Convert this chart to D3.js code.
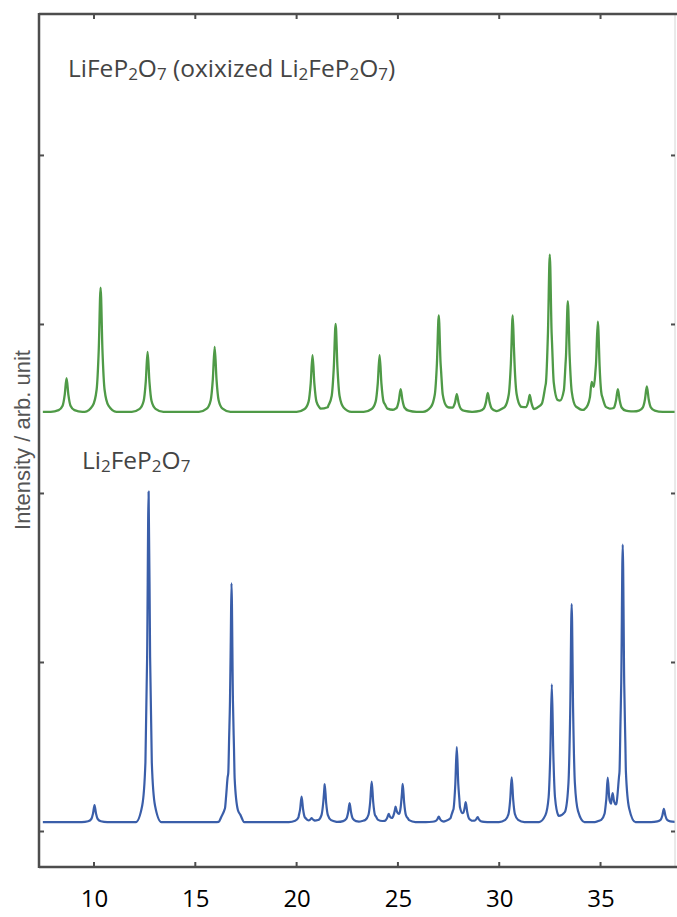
<!DOCTYPE html>
<html>
<head>
<meta charset="utf-8">
<script src="https://cdn.jsdelivr.net/npm/d3@7"></script>
<style>
  body { margin: 0; background: #fff; }
  svg { display: block; }
</style>
</head>
<body>
<div id="chart"></div>
<script>
// peak positions (2theta, deg) and heights above the baseline (arb. unit)
var greenPeaks   = [8.67, 10.35, 12.67, 15.98, 20.81, 21.95, 24.12, 25.16, 27.04, 27.93, 29.46, 30.69, 31.53, 32.52, 33.41, 34.59, 34.89, 35.88, 37.31];
var greenHeights = [ 200,   735,   355,   385,   335,   520,   335,   135,   570,   105,   112,   570,   100,   930,   655,   120,   520,   135,   150];
var greenBase = 2480;

var bluePeaks   = [10.05, 12.72, 16.62, 16.81, 20.27, 20.77, 21.41, 22.64, 23.73, 24.57, 24.91, 25.26, 27.04, 27.93, 28.37, 28.96, 30.64, 32.62, 33.60, 35.38, 35.62, 36.12, 38.15];
var blueHeights = [  100,  1955,    50,  1405,   150,    20,   225,   112,   240,    45,    80,   222,    32,   440,   105,    28,   265,   815,  1290,   250,   110,  1640,    78];
var blueBase = 53;

var xTicks = [10, 15, 20, 25, 30, 35];
var yTicks = [0, 1000, 2000, 3000, 4000];

var width = 677, height = 917;
var plotLeft = 39, plotRight = 675, plotTop = 14, plotBottom = 867;

var svg = d3.select('#chart').append('svg')
    .attr('width', width)
    .attr('height', height)

var x = d3.scaleLinear().domain([7.31, 38.70]).range([plotLeft, plotRight])
var y = d3.scaleLinear().domain([-213, 4834]).range([plotBottom, plotTop])

// lorentz-like line profile used for every reflection (offsets in deg, scaled per pattern)
var shapeDx = [-0.6, -0.3, -0.15, -0.07, 0, 0.07, 0.15, 0.3, 0.6]
var shapeF  = [0, 0.05, 0.18, 0.5, 1, 0.5, 0.18, 0.05, 0]

function trace(peaks, heights, base, widthScale) {
    var dx = shapeDx.map(function(d) { return d * widthScale })
    var shape = d3.scaleLinear().domain(dx).range(shapeF).clamp(true)
    var xs = [7.5, x.domain()[1]]
    peaks.forEach(function(p) {
        dx.forEach(function(d) { xs.push(p + d) })
    })
    xs = Array.from(new Set(xs)).filter(function(t) { return t >= 7.5 && t <= x.domain()[1] })
    xs.sort(d3.ascending)
    return xs.map(function(t) {
        return [t, base + d3.sum(peaks, function(p, i) { return heights[i] * shape(t - p) })]
    })
}

svg.append('clipPath').attr('id', 'clip')
    .append('rect')
    .attr('x', plotLeft).attr('y', plotTop)
    .attr('width', plotRight - plotLeft).attr('height', plotBottom - plotTop)

var line = d3.line()
    .x(function(d) { return x(d[0]) })
    .y(function(d) { return y(d[1]) })
    .curve(d3.curveMonotoneX)

var plot = svg.append('g').attr('clip-path', 'url(#clip)')

plot.append('path')
    .datum(trace(greenPeaks, greenHeights, greenBase, 1.3))
    .attr('d', line)
    .style('fill', 'none')
    .style('stroke', '#4f9a47')
    .style('stroke-width', 2.3)
    .style('stroke-linejoin', 'round')

plot.append('path')
    .datum(trace(bluePeaks, blueHeights, blueBase, 1.05))
    .attr('d', line)
    .style('fill', 'none')
    .style('stroke', '#3a5ea9')
    .style('stroke-width', 2.2)
    .style('stroke-linejoin', 'round')

// frame
var frameColor = '#4d4d4d'
svg.append('line').attr('x1', plotRight).attr('x2', plotRight).attr('y1', plotTop).attr('y2', plotBottom)
    .style('stroke', '#d4d4d4').style('stroke-width', 1)
svg.append('line').attr('x1', plotLeft).attr('x2', width).attr('y1', plotTop).attr('y2', plotTop)
    .style('stroke', frameColor).style('stroke-width', 2.5)
svg.append('line').attr('x1', plotLeft).attr('x2', width).attr('y1', plotBottom).attr('y2', plotBottom)
    .style('stroke', frameColor).style('stroke-width', 2.5)
svg.append('line').attr('x1', plotLeft).attr('x2', plotLeft).attr('y1', plotTop - 1).attr('y2', plotBottom + 1)
    .style('stroke', frameColor).style('stroke-width', 2.5)

// inward ticks on all four sides
function ticks(axis, pos) {
    var g = svg.append('g').attr('transform', pos).call(axis)
    g.select('.domain').remove()
    g.selectAll('.tick line').style('stroke', frameColor).style('stroke-width', 2)
    g.selectAll('.tick text').remove()
}
ticks(d3.axisTop(x).tickValues(xTicks).tickSize(5), 'translate(0,' + plotBottom + ')')
ticks(d3.axisBottom(x).tickValues(xTicks).tickSize(5), 'translate(0,' + plotTop + ')')
ticks(d3.axisRight(y).tickValues(yTicks).tickSize(5), 'translate(' + plotLeft + ',0)')
ticks(d3.axisLeft(y).tickValues(yTicks).tickSize(4), 'translate(' + plotRight + ',0)')

// x tick labels
svg.append('g').selectAll('text')
    .data(xTicks)
    .enter()
    .append('text')
        .attr('x', function(d) { return x(d) + 1 })
        .attr('y', 907)
        .text(function(d) { return d })
        .style('text-anchor', 'middle')
        .style('font-family', '"Open Sans", sans-serif')
        .style('font-size', '24px')
        .style('fill', '#000')

// y axis title
svg.append('text')
    .text('Intensity / arb. unit')
    .attr('transform', 'translate(30,440) rotate(-90)')
    .style('text-anchor', 'middle')
    .style('font-family', '"Liberation Sans", Arial, sans-serif')
    .style('font-size', '22px')
    .style('fill', '#555')

// series labels, subscripts as smaller lowered tspans
function formula(parts, px, py) {
    var t = svg.append('text')
        .attr('x', px).attr('y', py)
        .style('font-family', '"Open Sans", sans-serif')
        .style('font-size', '24.5px')
        .style('fill', '#444')
    var low = false
    parts.forEach(function(p) {
        var sub = !!p[1]
        t.append('tspan')
            .text(p[0])
            .attr('dy', sub === low ? 0 : (sub ? 3 : -3))
            .style('font-size', sub ? '17px' : null)
        low = sub
    })
}
formula([['LiFeP'], ['2', 1], ['O'], ['7', 1], [' (oxixized Li'], ['2', 1], ['FeP'], ['2', 1], ['O'], ['7', 1], [')']], 68, 77)
formula([['Li'], ['2', 1], ['FeP'], ['2', 1], ['O'], ['7', 1]], 82, 469)
</script>
</body>
</html>
